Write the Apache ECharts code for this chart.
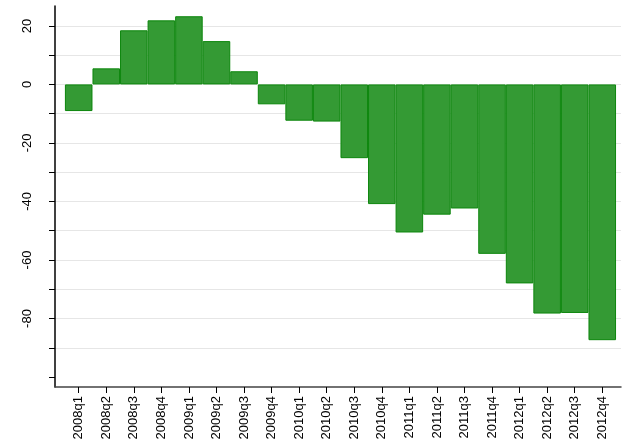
<!DOCTYPE html>
<html>
<head>
<meta charset="utf-8">
<script src="https://cdn.jsdelivr.net/npm/echarts@6/dist/echarts.min.js"></script>
<style>html,body{margin:0;padding:0;background:#fff}#c{width:622px;height:446px}</style>
</head>
<body>
<div id="c"></div>
<script>
const categories = ['2008q1','2008q2','2008q3','2008q4','2009q1','2009q2','2009q3','2009q4',
  '2010q1','2010q2','2010q3','2010q4','2011q1','2011q2','2011q3','2011q4',
  '2012q1','2012q2','2012q3','2012q4'];
const values = [-9.1, 5.5, 18.5, 21.9, 23.3, 14.8, 4.5, -6.8,
  -12.4, -12.7, -25.2, -40.9, -50.6, -44.5, -42.4, -57.9,
  -68.0, -78.3, -78.1, -87.4];
const yTicks = [-100, -90, -80, -70, -60, -50, -40, -30, -20, -10, 0, 10, 20];
const yLabels = [-80, -60, -40, -20, 0, 20];

const chart = echarts.init(document.getElementById('c'), null, {renderer: 'canvas'});
const idx = categories.map((c, i) => i);
const gridColors = yTicks.map(v => v === -100 ? 'rgba(0,0,0,0)' : '#e6e6e6');
chart.setOption({
  animation: false,
  backgroundColor: '#ffffff',
  grid: {left: 55, right: 1, top: 6, bottom: 59},
  xAxis: {
    type: 'value',
    min: -0.86, max: 19.68,
    axisLine: {show: true, onZero: false, lineStyle: {color: '#444444', width: 1.5}},
    axisTick: {show: true, customValues: idx, length: 6, lineStyle: {color: '#000', width: 1}},
    axisLabel: {
      customValues: idx, rotate: 90, margin: 9,
      fontFamily: 'Liberation Sans, Arial, sans-serif', fontSize: 13, color: '#000',
      formatter: v => categories[Math.round(v)]
    },
    splitLine: {show: false}
  },
  yAxis: {
    type: 'value',
    min: -103.4, max: 26.8,
    axisLine: {show: true, onZero: false, lineStyle: {color: '#000', width: 1.5}},
    axisTick: {show: true, customValues: yTicks, length: 6, lineStyle: {color: '#000', width: 1}},
    axisLabel: {
      customValues: yLabels, rotate: 90, margin: 21,
      fontFamily: 'Liberation Sans, Arial, sans-serif', fontSize: 13, color: '#000'
    },
    splitLine: {show: true, lineStyle: {color: gridColors, width: 1}}
  },
  series: [{
    type: 'bar',
    data: values.map((v, i) => [i, v]),
    barCategoryGap: '0%',
    itemStyle: {color: '#349a34', borderColor: '#0c860c', borderWidth: 1}
  }]
});
</script>
</body>
</html>
